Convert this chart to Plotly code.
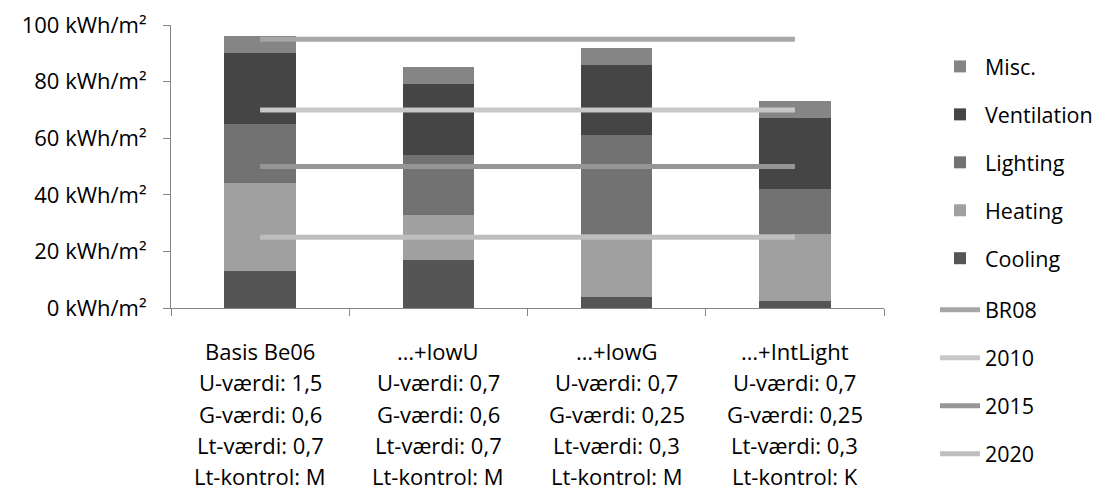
import plotly.graph_objects as go

categories = ["Basis Be06", "…+lowU", "…+lowG", "…+IntLight"]
label_rows = [
    ["Basis Be06", "…+lowU", "…+lowG", "…+IntLight"],
    ["U-værdi: 1,5", "U-værdi: 0,7", "U-værdi: 0,7", "U-værdi: 0,7"],
    ["G-værdi: 0,6", "G-værdi: 0,6", "G-værdi: 0,25", "G-værdi: 0,25"],
    ["Lt-værdi: 0,7", "Lt-værdi: 0,7", "Lt-værdi: 0,3", "Lt-værdi: 0,3"],
    ["Lt-kontrol: M", "Lt-kontrol: M", "Lt-kontrol: M", "Lt-kontrol: K"],
]

cooling = [13, 17, 4, 2.5]
heating = [31, 16, 22, 23.5]
lighting = [21, 21, 35, 16]
ventilation = [25, 25, 25, 25]
misc = [6, 6, 6, 6]

br08 = [95, 95]
y2010 = [70, 70]
y2015 = [50, 50]
y2020 = [25, 25]
line_x = [categories[0], categories[-1]]

y_ticks = [0, 20, 40, 60, 80, 100]
y_tick_text = [f"{v} kWh/m²" for v in y_ticks]

FONT = "Open Sans"
FS = 22
LEG_FS = 21.5

fig = go.Figure()
bar_series = [
    ("Cooling", cooling, "#555555", 5),
    ("Heating", heating, "#a0a0a0", 4),
    ("Lighting", lighting, "#727272", 3),
    ("Ventilation", ventilation, "#454545", 2),
    ("Misc.", misc, "#858585", 1),
]
for name, vals, col, rank in bar_series:
    fig.add_trace(go.Bar(x=categories, y=vals, name=name, marker_color=col,
                         marker_line_width=0, width=0.4, legendrank=rank,
                         legendgroup=name, legend="legend"))

line_series = [
    ("BR08", br08, "#a6a6a6", 6),
    ("2010", y2010, "#c8c8c8", 7),
    ("2015", y2015, "#969696", 8),
    ("2020", y2020, "#bebebe", 9),
]
for name, vals, col, rank in line_series:
    fig.add_trace(go.Scatter(x=line_x, y=vals, name=name, mode="lines",
                             line=dict(color=col, width=5), legendrank=rank,
                             legendgroup=name, legend="legend2"))

PLOT_H = 283
annotations = []
for r, row in enumerate(label_rows):
    for c, txt in enumerate(row):
        annotations.append(dict(x=categories[c], xref="x",
                                y=-(43 + 31.3 * r) / PLOT_H,
                                yref="paper", text=txt, showarrow=False,
                                font=dict(family=FONT, size=FS, color="#000000"),
                                xanchor="center", yanchor="middle"))

legend_common = dict(xanchor="left", yanchor="top",
                     font=dict(family=FONT, size=LEG_FS), tracegroupgap=17,
                     itemwidth=40, bgcolor="rgba(0,0,0,0)")

fig.update_layout(
    width=1104, height=490,
    margin=dict(l=163, r=228, t=17, b=190, autoexpand=False),
    barmode="stack",
    plot_bgcolor="white", paper_bgcolor="white",
    font=dict(family=FONT, size=FS, color="#000000"),
    showlegend=True,
    legend=dict(x=1.0715, y=0.926, **legend_common),
    legend2=dict(x=1.0715, y=0.066, **legend_common),
    annotations=annotations,
    xaxis=dict(type="category", showticklabels=False, showline=True,
               linecolor="#868686", linewidth=1, ticks="outside", ticklen=7,
               tickcolor="#868686", tickson="boundaries", showgrid=False,
               range=[-0.5, 3.5], automargin=False),
    yaxis=dict(range=[0, 100], tickvals=y_ticks, ticktext=y_tick_text,
               showline=True, linecolor="#868686", linewidth=1,
               ticks="outside", ticklen=7, tickcolor="#868686",
               ticklabelstandoff=12, automargin=False,
               showgrid=False, zeroline=False),
)

fig.write_html("out.html")
